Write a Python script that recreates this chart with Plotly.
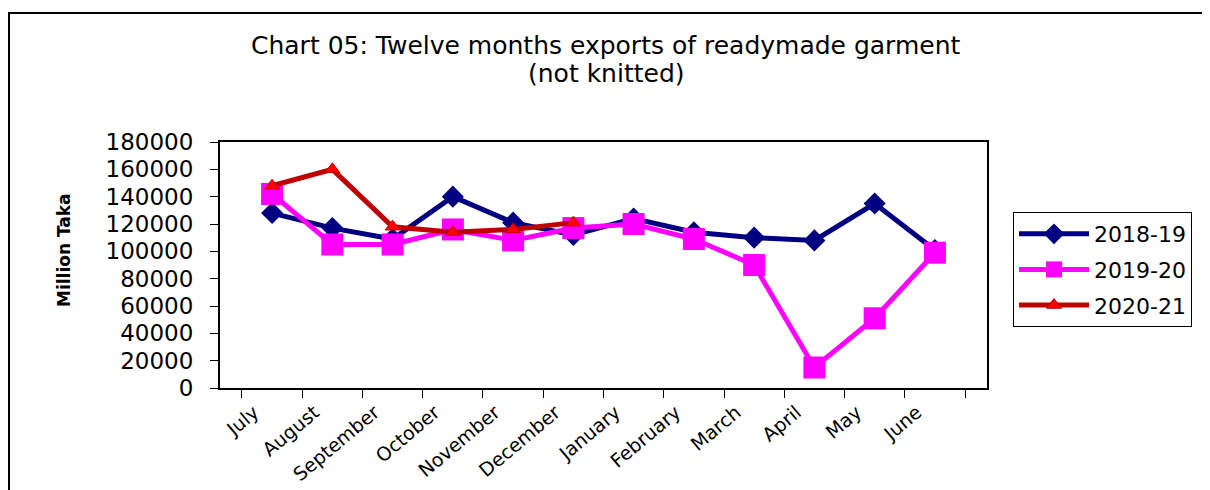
import plotly.graph_objects as go

months = ["July", "August", "September", "October", "November", "December",
          "January", "February", "March", "April", "May", "June"]
s2018_19 = [128000, 117000, 109000, 140000, 121000, 112000,
            124000, 114000, 110000, 108000, 135000, 101000]
s2019_20 = [142000, 105000, 105000, 116000, 108000, 117000,
            120000, 109000, 90000, 15000, 51000, 99000]
s2020_21 = [148000, 160000, 118000, 114000, 116000, 121000]
names = ["2018-19", "2019-20", "2020-21"]
y_ticks = list(range(0, 180001, 20000))
title_lines = ["Chart 05: Twelve months exports of readymade garment", "(not knitted)"]

FONT = "DejaVu Sans"
OFF = 8  # page offset of the figure inside the browser window

fig = go.Figure()
fig.add_trace(go.Scatter(
    x=months, y=s2018_19, name=names[0], legendgroup="a", mode="lines+markers",
    line=dict(color="#000080", width=5),
    marker=dict(symbol="diamond", size=17, color="#000080")))
fig.add_trace(go.Scatter(
    x=months, y=s2019_20, name=names[1], legendgroup="b", mode="lines+markers",
    line=dict(color="#FF00FF", width=5),
    marker=dict(symbol="square", size=22, color="#FF00FF")))
fig.add_trace(go.Scatter(
    x=months[:len(s2020_21)], y=s2020_21, name=names[2], legendgroup="c",
    mode="lines+markers",
    line=dict(color="#C00000", width=5),
    marker=dict(symbol="triangle-up", size=13, color="#FF0000",
                line=dict(color="#C00000", width=1))))

# plot area in reference screen pixels
PL, PR, PT, PB = 220, 987, 142, 388
W, H = 1210, 490
L = PL - OFF
T = PT - OFF
R = W - L - (PR - PL)
B = H - T - (PB - PT)
pw, ph = PR - PL, PB - PT


def px_x(p):
    return (p - PL) / pw


def px_y(p):
    return (PB - p) / ph


fig.add_shape(type="rect", xref="paper", yref="paper",
              x0=px_x(9), x1=px_x(1230), y0=px_y(520), y1=px_y(13),
              line=dict(color="black", width=2), fillcolor="rgba(0,0,0,0)",
              layer="below")

for txt, yc in zip(title_lines, [45, 73]):
    fig.add_annotation(text=txt, xref="paper", yref="paper",
                       x=px_x(606), y=px_y(yc), xanchor="center", yanchor="middle",
                       showarrow=False,
                       font=dict(family=FONT, size=25, color="black"))

fig.add_annotation(text="<b>Million Taka</b>", xref="paper", yref="paper",
                   x=px_x(64), y=px_y(250), xanchor="center", yanchor="middle",
                   textangle=-90, showarrow=False,
                   font=dict(family=FONT, size=17, color="black"))

fig.update_layout(
    width=W, height=H,
    margin=dict(l=L, r=R, t=T, b=B, pad=0),
    paper_bgcolor="white", plot_bgcolor="white",
    font=dict(family=FONT, color="black"),
    showlegend=True,
    legend=dict(x=px_x(1013), y=px_y(212), xanchor="left", yanchor="top",
                bordercolor="black", borderwidth=1, bgcolor="white",
                font=dict(family=FONT, size=22, color="black"),
                tracegroupgap=4, itemwidth=70),
    xaxis=dict(type="category", categoryorder="array", categoryarray=months,
               tickson="boundaries", ticks="outside", ticklen=8, tickwidth=1,
               tickcolor="black", tickangle=-40, ticklabelstandoff=4,
               ticklabelshift=-18,
               tickfont=dict(family=FONT, size=19, color="black"),
               showline=True, linecolor="black", linewidth=2, mirror=True,
               showgrid=False, zeroline=False),
    yaxis=dict(range=[0, 180000], tickvals=y_ticks,
               ticktext=[str(v) for v in y_ticks],
               ticks="outside", ticklen=8, tickwidth=1, tickcolor="black",
               ticklabelstandoff=12,
               tickfont=dict(family=FONT, size=23, color="black"),
               showline=True, linecolor="black", linewidth=2, mirror=True,
               showgrid=False, zeroline=False),
)

fig.write_html("out.html")
